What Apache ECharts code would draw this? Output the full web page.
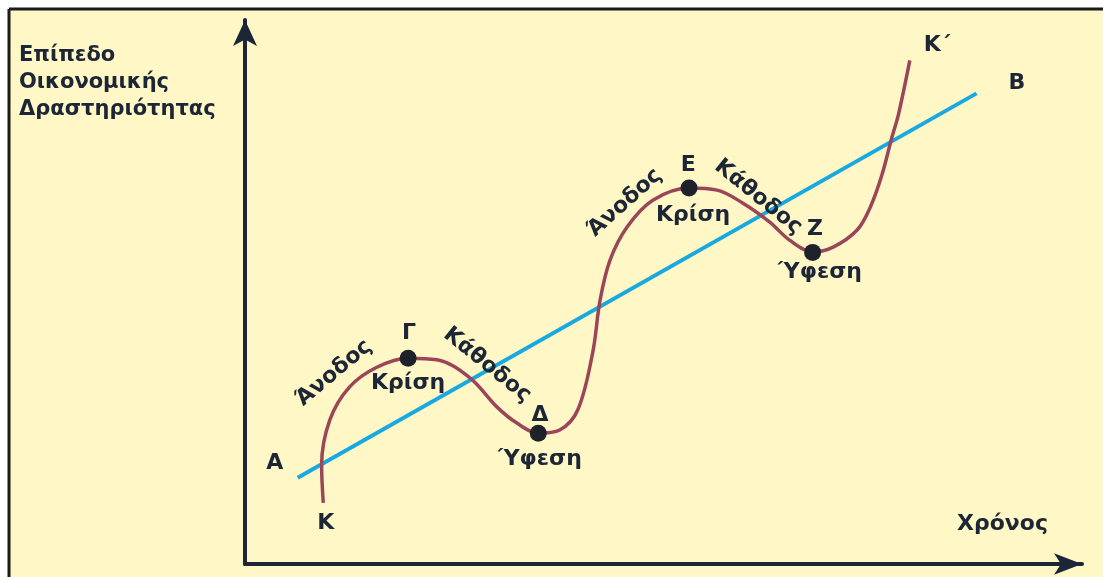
<!DOCTYPE html>
<html>
<head>
<meta charset="utf-8">
<script src="https://cdn.jsdelivr.net/npm/echarts@6/dist/echarts.min.js"></script>
<style>
html,body{margin:0;padding:0;background:#fff;}
#main{width:1103px;height:577px;}
</style>
</head>
<body>
<div id="main"></div>
<script>
// κύκλος οικονομικής δραστηριότητας (σχήμα)
var cyclePoints = [
  [9.5,11.5],[9.3,18.6],[10.3,27.1],[12.7,33.3],[16.0,37.0],[19.8,38.7],[23.3,38.4],
  [27.3,35.0],[30.6,29.5],[33.0,26.5],[35.6,24.6],[38.2,25.2],[40.4,29.0],[42.2,39.7],
  [43.1,49.6],[44.3,57.1],[46.4,63.4],[49.5,68.4],[53.9,70.7],[57.3,70.3],[60.4,67.9],
  [63.7,64.3],[66.1,60.9],[68.9,58.7],[71.4,59.6],[74.3,62.8],[75.9,67.1],[77.3,73.1],
  [78.5,80.1],[79.3,84.4],[80.7,94.7]
];
var trendPoints = [[6.4,16.2],[88.8,88.5]];   // ευθεία ΑΒ
var turningPoints = [[19.8,38.7],[35.6,24.6],[53.9,70.7],[68.9,58.6]]; // Γ, Δ, Ε, Ζ

var labelNames = ['Α','Κ','Γ','Κρίση','Άνοδος','Κάθοδος','Δ','Ύφεση','Άνοδος','Ε','Κρίση','Κάθοδος','Ζ','Ύφεση','Κ΄','Β'];
var labelPos = [[3.6,19.0],[9.8,7.7],[19.9,43.4],[19.8,34.0],[10.8,35.9],[29.4,37.4],[35.8,28.0],[35.8,19.6],
  [46.1,67.9],[53.8,75.0],[54.4,65.6],[62.3,69.0],[69.2,63.0],[69.8,54.9],[84.0,97.6],[93.7,90.4]];
var labelRotate = [0,0,0,0,40,-39,0,0,42,0,0,-39,0,0,0,0];

var yTitle = ['Επίπεδο','Οικονομικής','Δραστηριότητας'];
var xTitle = 'Χρόνος';

var textColor = '#1c2636';
var fontFam = 'DejaVu Sans';

var chart = echarts.init(document.getElementById('main'));

var labelData = [];
for (var i = 0; i < labelNames.length; i++) {
  labelData.push({
    name: labelNames[i],
    value: labelPos[i],
    label: {rotate: labelRotate[i]}
  });
}

chart.setOption({
  animation: false,
  backgroundColor: '#ffffff',
  graphic: [
    {type:'rect', z:-10, shape:{x:9,y:9,width:1094,height:568}, style:{fill:'#fff7c6'}},
    {type:'line', z:-5, shape:{x1:9,y1:9,x2:1103,y2:9}, style:{stroke:'#1b1b1b',lineWidth:3}},
    {type:'line', z:-5, shape:{x1:9,y1:9,x2:9,y2:577}, style:{stroke:'#1b1b1b',lineWidth:3}},
    {type:'text', left:19, top:42, style:{text:yTitle.join('\n'), fill:textColor, font:'bold 21px "DejaVu Sans"', lineHeight:27}},
    {type:'text', left:957, top:513, style:{text:xTitle, fill:textColor, font:'bold 22px "DejaVu Sans"'}}
  ],
  grid: {left:245, right:21, top:20, bottom:13},
  xAxis: {
    type:'value', min:0, max:101.6,
    axisLine:{show:true, symbol:['none','arrow'], symbolSize:[16,28], lineStyle:{color:textColor,width:4}},
    axisTick:{show:false}, axisLabel:{show:false}, splitLine:{show:false}
  },
  yAxis: {
    type:'value', min:0, max:102.3,
    axisLine:{show:true, symbol:['none','arrow'], symbolSize:[18,26], lineStyle:{color:textColor,width:4}},
    axisTick:{show:false}, axisLabel:{show:false}, splitLine:{show:false}
  },
  series: [
    {
      type:'line', data:trendPoints, symbol:'none',
      lineStyle:{color:'#19a9e1', width:4}, z:2
    },
    {
      type:'line', data:cyclePoints, symbol:'none', smooth:0.35,
      lineStyle:{color:'#9b4658', width:3.5}, z:3
    },
    {
      type:'scatter', data:turningPoints, symbolSize:17,
      itemStyle:{color:'#1e232b', opacity:1}, z:4
    },
    {
      type:'scatter', data:labelData, symbolSize:1,
      itemStyle:{color:'transparent', opacity:1}, z:5,
      label:{
        show:true, position:'inside', formatter:'{b}',
        color:textColor, fontFamily:fontFam, fontWeight:'bold', fontSize:22
      }
    }
  ]
});
</script>
</body>
</html>
